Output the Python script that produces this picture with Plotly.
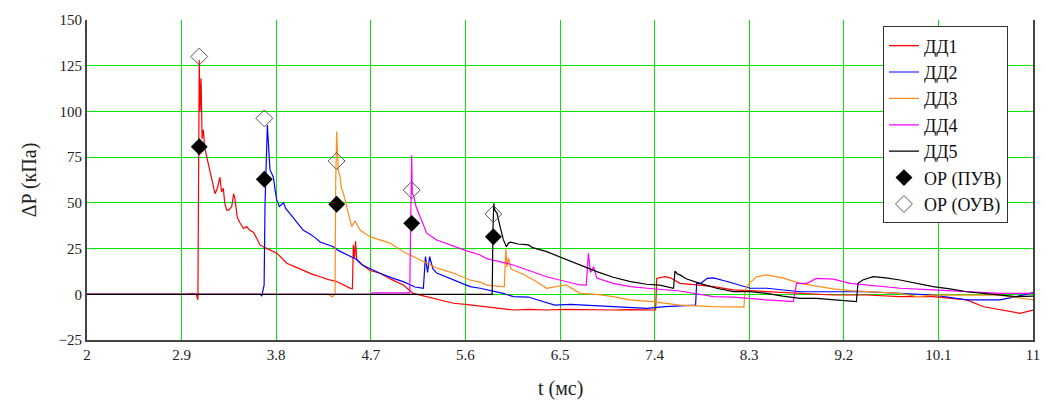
import plotly.graph_objects as go

# ---------------- data ----------------
t_dd1 = [2.0, 2.95, 3.0, 3.04, 3.055, 3.06, 3.068, 3.075, 3.085, 3.095, 3.107, 3.12, 3.139, 3.155, 3.17, 3.19,
         3.218, 3.24, 3.265, 3.28, 3.297, 3.31, 3.329, 3.35, 3.377, 3.395, 3.408, 3.43, 3.456, 3.49, 3.519, 3.55,
         3.583, 3.62, 3.646, 3.694, 3.75, 3.805, 3.85, 3.9, 3.98, 4.058, 4.14, 4.217, 4.3, 4.375, 4.44, 4.502,
         4.525, 4.534, 4.545, 4.555, 4.566, 4.6, 4.692, 4.788, 4.9, 5.009, 5.104, 5.232, 5.35, 5.485, 5.6, 5.739,
         5.866, 6.056, 6.2, 6.373, 6.55, 6.69, 6.85, 7.007, 7.15, 7.325, 7.41, 7.42, 7.5, 7.55, 7.6, 7.642, 7.8,
         7.959, 8.149, 8.466, 8.783, 9.1, 9.418, 9.735, 10.05, 10.37, 10.53, 10.686, 10.876, 11.0]
p_dd1 = [0, 0, 0.5, 0, -3, 60, 128, 100, 118, 85, 90, 80, 75, 72, 68, 62,
         55, 58, 64, 56, 58, 50, 46, 46, 48, 55, 52, 42, 39, 36, 37, 35,
         34, 30, 27, 25.5, 24, 22.5, 20, 17, 15, 13, 11, 9.6, 8, 7, 5, 3.4,
         3, 27, 20, 29, 19, 17, 13, 11.5, 8, 5.1, 0.5, -1.3, -3, -4.9, -5.5, -6.5,
         -7.6, -8.6, -8.2, -8.6, -8.3, -8.5, -8.6, -8.6, -8.4, -8.6, -8.6, 8.7, 9.6, 9, 7.5, 6, 5.1,
         4.2, 2.4, 1.4, 0.5, -0.4, -0.4, -1.3, -1.3, -3.1, -6.8, -8.6, -10.4, -8.6]

t_dd2 = [2.0, 3.65, 3.662, 3.675, 3.685, 3.694, 3.705, 3.716, 3.726, 3.735, 3.741, 3.757, 3.773, 3.79, 3.805,
         3.83, 3.852, 3.87, 3.89, 3.931, 3.96, 3.995, 4.03, 4.058, 4.12, 4.17, 4.217, 4.28, 4.344, 4.39, 4.439,
         4.5, 4.566, 4.62, 4.692, 4.788, 4.9, 5.009, 5.12, 5.2, 5.22, 5.24, 5.26, 5.29, 5.327, 5.485, 5.644,
         5.739, 5.803, 5.961, 6.056, 6.2, 6.29, 6.45, 6.6, 6.75, 7.007, 7.325, 7.5, 7.79, 7.8, 7.84, 7.9, 7.96,
         8.09, 8.21, 8.31, 8.47, 8.62, 8.783, 9.1, 9.418, 9.735, 10.05, 10.37, 10.686, 10.84, 11.0]
p_dd2 = [0, 0, -1, 2, 5, 50, 80, 92.5, 82.6, 75, 68, 66, 64, 57, 51.6,
         48, 49, 50, 47, 44.4, 42, 39.5, 37, 35, 33, 31, 28.6, 27.5, 26, 24, 22.5,
         21, 19, 16, 14, 11.5, 9, 6.9, 4, 3.3, 20.6, 12, 20.6, 14, 11.6, 7.8, 4.2,
         3.3, 2.5, 0.5, -1.3, -1.5, -3.1, -5.9, -5.5, -5.9, -6.8, -7.7, -6.8, -5.9, 6, 6, 8.7, 9,
         7, 5.1, 3.3, 3.3, 2.4, 1.4, 1.4, 1.4, 0.5, -0.4, -3.1, -3.1, -1.3, 0.9]

t_dd3 = [2.0, 4.3, 4.33, 4.36, 4.366, 4.375, 4.385, 4.39, 4.407, 4.42, 4.439, 4.46, 4.48, 4.518, 4.55, 4.6,
         4.692, 4.788, 4.883, 5.009, 5.168, 5.327, 5.485, 5.644, 5.75, 5.803, 5.95, 5.97, 5.985, 5.995, 6.01,
         6.03, 6.056, 6.15, 6.25, 6.373, 6.56, 6.65, 6.69, 6.85, 7.007, 7.16, 7.38, 7.64, 7.96, 8.25, 8.26,
         8.3, 8.37, 8.466, 8.62, 8.783, 8.94, 9.1, 9.26, 9.418, 9.735, 9.9, 10.05, 10.37, 10.686, 11.0]
p_dd3 = [0, 0, -1.5, 0, 60, 89, 75, 68, 64.3, 58, 55.3, 50, 46, 37, 40, 35,
         31.5, 29.7, 28, 23.3, 18.8, 14.4, 11.6, 7.8, 6.5, 5, 4.2, 4.2, 25.1, 15, 20,
         14, 13.3, 11, 7.8, 3.3, 5.1, 2, 0.5, 0, -1.3, -3.1, -4, -5.9, -6.8, -7, 2.4,
         6, 9.6, 10.6, 9, 6, 4.5, 3, 2, 1.4, 0.5, -1.3, -0.5, -0.5, -0.5, -3.1]

t_dd4 = [2.0, 4.7, 4.72, 5.07, 5.08, 5.089, 5.095, 5.11, 5.13, 5.168, 5.232, 5.327, 5.45, 5.6, 5.739, 5.803,
         6.056, 6.373, 6.69, 6.75, 6.77, 6.79, 6.82, 6.85, 7.007, 7.17, 7.33, 7.5, 7.64, 7.959, 8.149, 8.466,
         8.72, 8.75, 8.85, 8.94, 9.1, 9.26, 9.418, 9.735, 10.05, 10.37, 10.686, 11.0]
p_dd4 = [0, 0, 0.8, 0.8, 40, 76, 55, 53.4, 48, 42.4, 33.4, 29.7, 27, 24, 21.5, 19.5,
         16, 9.6, 5.1, 5, 22.4, 12, 15, 8.9, 6, 4.2, 3.3, 2.4, 1.8, -1.3, -1.5, -3.1,
         -4, 6, 6, 8.7, 8.3, 6, 5, 3.3, 2.4, 1.4, 0.5, 0.5]

t_dd5 = [2.0, 5.855, 5.862, 5.87, 5.88, 5.9, 5.93, 5.96, 5.99, 6.01, 6.03, 6.1, 6.2, 6.24, 6.373, 6.53,
         6.69, 6.85, 7.007, 7.17, 7.325, 7.45, 7.58, 7.594, 7.62, 7.642, 7.7, 7.8, 7.83, 7.99, 8.15, 8.307,
         8.466, 8.62, 8.783, 8.94, 9.1, 9.32, 9.335, 9.38, 9.48, 9.6, 9.735, 9.89, 10.05, 10.21, 10.37, 10.53,
         10.686, 10.84, 11.0]
p_dd5 = [0, 0, 35, 49.7, 46, 44.4, 37, 30, 26, 28, 28.5, 27.5, 27, 25.5, 23.3, 19.7,
         16, 12.4, 9.3, 6.9, 5.5, 5, 3.3, 12.7, 11, 10.6, 8.5, 6.5, 6, 3.3, 1.5, 1.5,
         0.5, -1, -2.2, -2.2, -3.1, -4, 6, 7.8, 9.6, 9, 7.8, 6, 4.2, 3, 1.4, 0.5,
         -0.4, -1.3, -1]

t_marks = [3.068, 3.687, 4.375, 5.089, 5.866]
p_puv = [80.7, 62.9, 49.2, 38.8, 31.5]
p_ouv = [130, 96.2, 72.9, 57, 43.9]

series_names = ["ДД1", "ДД2", "ДД3", "ДД4", "ДД5"]
series_colors = ["#ff0000", "#0000ff", "#ff8c1a", "#ff00ff", "#000000"]

x_ticks = [2, 2.9, 3.8, 4.7, 5.6, 6.5, 7.4, 8.3, 9.2, 10.1, 11]
x_tick_text = ["2", "2.9", "3.8", "4.7", "5.6", "6.5", "7.4", "8.3", "9.2", "10.1", "11"]
y_ticks = [-25, 0, 25, 50, 75, 100, 125, 150]

# ---------------- figure ----------------
fig = go.Figure()
for tt, pp, nm, col in zip([t_dd1, t_dd2, t_dd3, t_dd4, t_dd5],
                           [p_dd1, p_dd2, p_dd3, p_dd4, p_dd5],
                           series_names, series_colors):
    fig.add_trace(go.Scatter(x=tt, y=pp, mode="lines", name=nm,
                             line=dict(color=col, width=1.2)))

fig.add_trace(go.Scatter(x=t_marks, y=p_puv, mode="markers", name="ОР (ПУВ)",
                         marker=dict(symbol="diamond", size=13, color="#000000")))
fig.add_trace(go.Scatter(x=t_marks, y=p_ouv, mode="markers", name="ОР (ОУВ)",
                         marker=dict(symbol="diamond-open", size=13, color="#555555",
                                     line=dict(width=1))))

GRID = "rgb(0,230,0)"
FONT = "Liberation Serif"

fig.update_layout(
    template="none",
    width=1047, height=401,
    margin=dict(l=87, r=14, t=20, b=61, autoexpand=False),
    paper_bgcolor="white", plot_bgcolor="white",
    font=dict(family=FONT, size=15, color="#222222"),
    showlegend=True,
    legend=dict(x=0.8414, y=0.98, xanchor="left", yanchor="top",
                bgcolor="white", bordercolor="#333333", borderwidth=1,
                font=dict(family=FONT, size=18, color="#111111"),
                itemwidth=30, tracegroupgap=0),
    xaxis=dict(range=[2, 11], tickvals=x_ticks, ticktext=x_tick_text, automargin=False,
               showgrid=True, gridcolor=GRID, gridwidth=1,
               zeroline=False, showline=True, linecolor="#444444", linewidth=2,
               ticks="", tickfont=dict(family=FONT, size=15, color="#222222")),
    yaxis=dict(range=[-25, 150], tickvals=y_ticks, automargin=False,
               showgrid=True, gridcolor=GRID, gridwidth=1,
               zeroline=False, showline=True, mirror=True, linecolor="#444444", linewidth=2,
               ticks="", tickfont=dict(family=FONT, size=15, color="#222222"),
               title=dict(text="ΔP (кПа)", font=dict(family=FONT, size=20, color="#222222"), standoff=17)),
    annotations=[dict(text="t (мс)", xref="paper", yref="paper", x=0.5, y=-0.152,
                      xanchor="center", yanchor="middle", showarrow=False,
                      font=dict(family=FONT, size=20, color="#222222"))],
)

fig.write_html("out.html")
